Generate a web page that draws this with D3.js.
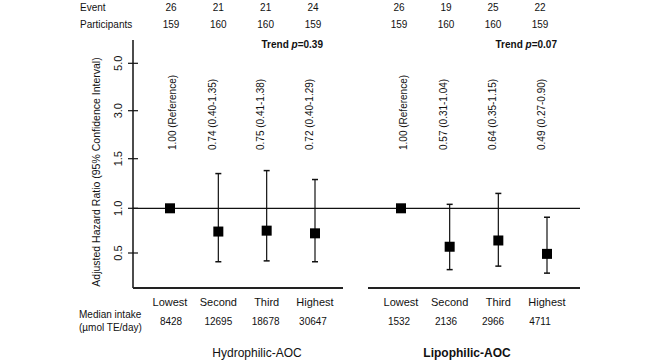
<!doctype html>
<html lang="en">
<head>
    <meta charset="utf-8">
    <title>Hazard ratios by antioxidant capacity quartile</title>
    <script src="https://d3js.org/d3.v7.min.js"></script>
    <style>
        body { margin: 0; background: #fff; }
        text { font-family: "Liberation Sans", Arial, sans-serif; fill: #111; }
    </style>
</head>
<body>
<script>
    // Data
    const groups       = ["Hydrophilic-AOC", "Lipophilic-AOC"];
    const quartiles    = ["Lowest", "Second", "Third", "Highest"];
    const events       = [[26, 21, 21, 24], [26, 19, 25, 22]];
    const participants = [[159, 160, 160, 159], [159, 160, 160, 159]];
    const hazard       = [[1.00, 0.74, 0.75, 0.72], [1.00, 0.57, 0.64, 0.49]];
    const ciLow        = [[null, 0.40, 0.41, 0.40], [null, 0.31, 0.35, 0.27]];
    const ciHigh       = [[null, 1.35, 1.38, 1.29], [null, 1.04, 1.15, 0.90]];
    const medianIntake = [[8428, 12695, 18678, 30647], [1532, 2136, 2966, 4711]];
    const trendP       = ["0.39", "0.07"];
    const yTicks       = [0.5, 1.0, 1.5, 3.0, 5.0];

    // Dimensions
    const width = 661, height = 360;
    const axisX = 133, axisTop = 40, axisBottom = 288;

    const svg = d3.select("body").append("svg")
        .attr("width", width)
        .attr("height", height);

    // Y scale - piecewise, ticks evenly spaced like the original
    const y = d3.scaleLinear()
        .domain([0.1, 0.5, 1.0, 1.5, 3.0, 5.0, 6.0])
        .range([axisBottom, 253, 208.3, 158.7, 110.7, 63.3, axisTop]);

    // one x scale per panel, plus one for the table columns
    const panelRange = [[170, 315], [401, 547]];
    const tableRange = [[171, 313], [399, 540]];
    const baseRange  = [[133, 343], [368, 580]];
    const xs = panelRange.map(r => d3.scalePoint().domain(quartiles).range(r));
    const xt = tableRange.map(r => d3.scalePoint().domain(quartiles).range(r));

    // Y axis (cross ticks)
    const yAxis = svg.append("g").attr("transform", `translate(${axisX},0)`);
    yAxis.append("line")
        .attr("y1", axisTop).attr("y2", axisBottom)
        .attr("stroke", "#111").attr("stroke-width", 1.5);
    yAxis.selectAll(".tick")
        .data(yTicks)
        .enter().append("line")
        .attr("x1", -5).attr("x2", 5)
        .attr("y1", d => y(d)).attr("y2", d => y(d))
        .attr("stroke", "#111").attr("stroke-width", 1.2);
    yAxis.selectAll(".tl")
        .data(yTicks)
        .enter().append("text")
        .attr("transform", d => `translate(-11,${y(d)}) rotate(-90)`)
        .attr("text-anchor", "middle")
        .style("font-size", "11px")
        .text(d => d3.format(".1f")(d));

    svg.append("text")
        .attr("transform", "translate(100,172) rotate(-90)")
        .attr("text-anchor", "middle")
        .style("font-size", "10.5px")
        .text("Adjusted Hazard Ratio (95% Confidence Interval)");

    // Reference line at HR = 1
    svg.append("line")
        .attr("x1", axisX).attr("x2", baseRange[1][1])
        .attr("y1", y(1)).attr("y2", y(1))
        .attr("stroke", "#111").attr("stroke-width", 1.2);

    // Row headers
    svg.append("text").attr("x", 80).attr("y", 11).style("font-size", "10px").text("Event");
    svg.append("text").attr("x", 80).attr("y", 28).style("font-size", "10px").text("Participants");
    svg.append("text").attr("x", 79).attr("y", 318).style("font-size", "10px").text("Median intake");
    svg.append("text").attr("x", 79).attr("y", 331).style("font-size", "10px").text("(\u00b5mol TE/day)");

    groups.forEach((g, gi) => {
        const x = xs[gi];
        const panel = svg.append("g");

        // bottom axis
        panel.append("line")
            .attr("x1", baseRange[gi][0]).attr("x2", baseRange[gi][1])
            .attr("y1", axisBottom).attr("y2", axisBottom)
            .attr("stroke", "#222").attr("stroke-width", 2.2);

        // category labels
        panel.selectAll(".cat")
            .data(quartiles)
            .enter().append("text")
            .attr("x", d => x(d)).attr("y", 306)
            .attr("text-anchor", "middle")
            .style("font-size", "11px")
            .text(d => d);

        // table rows
        const rows = [[events[gi], 11], [participants[gi], 28], [medianIntake[gi], 325]];
        rows.forEach(([vals, yy]) => {
            panel.selectAll(null)
                .data(vals)
                .enter().append("text")
                .attr("x", (d, i) => xt[gi](quartiles[i])).attr("y", yy)
                .attr("text-anchor", "middle")
                .style("font-size", "10px")
                .text(d => d);
        });

        // trend p
        const trend = panel.append("text")
            .attr("x", gi === 0 ? 323 : 557).attr("y", 48)
            .attr("text-anchor", "end")
            .style("font-size", "10px")
            .style("font-weight", "bold");
        trend.append("tspan").text("Trend ");
        trend.append("tspan").style("font-style", "italic").text("p");
        trend.append("tspan").text("=" + trendP[gi]);

        // rotated HR labels
        panel.selectAll(".hr")
            .data(quartiles)
            .enter().append("text")
            .attr("transform", (d, i) => `translate(${x(d) + (i === 0 ? 2 : -6)},150) rotate(-90)`)
            .attr("dy", "0.35em")
            .style("font-size", "10px")
            .text((d, i) => ciLow[gi][i] == null
                ? hazard[gi][i].toFixed(2) + " (Reference)"
                : `${hazard[gi][i].toFixed(2)} (${ciLow[gi][i].toFixed(2)}-${ciHigh[gi][i].toFixed(2)})`);

        // error bars
        const ci = quartiles.map((q, i) => ({ q: q, lo: ciLow[gi][i], hi: ciHigh[gi][i] }))
            .filter(d => d.lo != null);
        panel.selectAll(".whisk")
            .data(ci)
            .enter().append("line")
            .attr("x1", d => x(d.q)).attr("x2", d => x(d.q))
            .attr("y1", d => y(d.lo)).attr("y2", d => y(d.hi))
            .attr("stroke", "#111").attr("stroke-width", 1.2);
        ["lo", "hi"].forEach(k => {
            panel.selectAll(null)
                .data(ci)
                .enter().append("line")
                .attr("x1", d => x(d.q) - 3).attr("x2", d => x(d.q) + 3)
                .attr("y1", d => y(d[k])).attr("y2", d => y(d[k]))
                .attr("stroke", "#111").attr("stroke-width", 1.5);
        });

        // point estimates
        panel.selectAll(".pt")
            .data(quartiles)
            .enter().append("rect")
            .attr("x", d => x(d) - 5)
            .attr("y", (d, i) => y(hazard[gi][i]) - 5)
            .attr("width", 10).attr("height", 10)
            .attr("fill", "#000");

        // group title
        panel.append("text")
            .attr("x", gi === 0 ? 257 : 467).attr("y", 357)
            .attr("text-anchor", "middle")
            .style("font-size", "12px")
            .style("font-weight", gi === 1 ? "bold" : "normal")
            .text(g);
    });
</script>
</body>
</html>
